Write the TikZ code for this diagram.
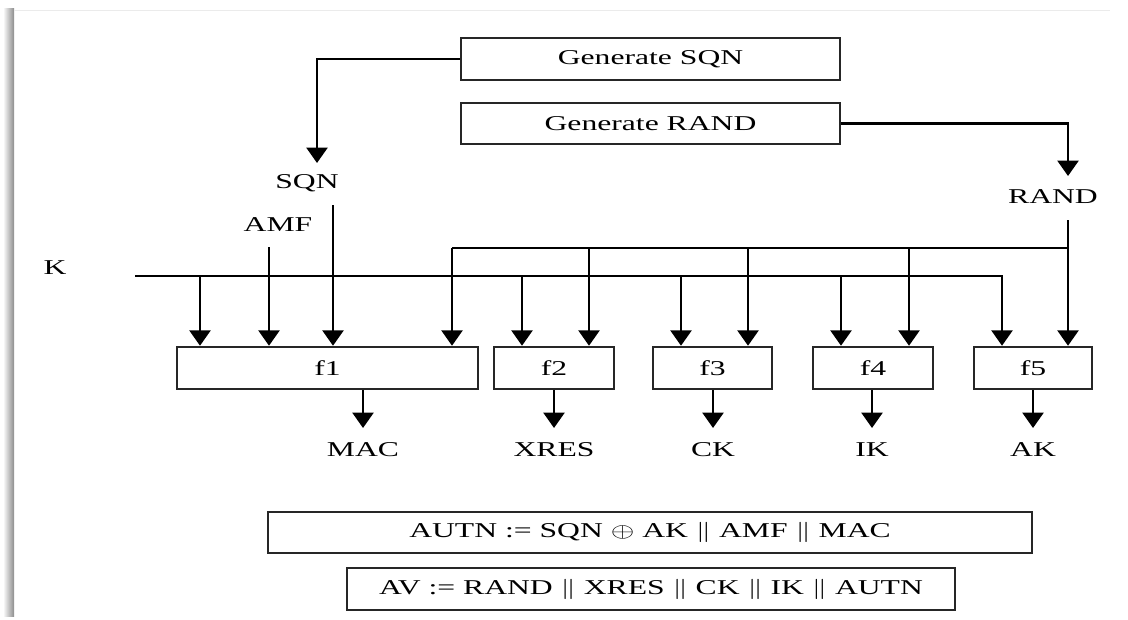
\documentclass[tikz,border=0pt]{standalone}
\usepackage{fontspec,graphicx}
\setmainfont{Liberation Serif}
\usetikzlibrary{arrows.meta}
\newcommand{\wtxt}[1]{\scalebox{1.5}[1]{#1}}
\tikzset{box/.style={draw=black!85,line width=1.8pt,inner sep=0pt,font=\fontsize{15}{18}\selectfont},lbl/.style={inner sep=0pt,font=\fontsize{15}{18}\selectfont},arr/.style={-{Triangle[width=15pt,length=11pt]},line width=1.8pt},wire/.style={line width=1.8pt}}

\begin{document}
\begin{tikzpicture}[x=0.025cm,y=-0.025cm]
\useasboundingbox(0,0)rectangle(1128,619);
% frame shadow
\shade[left color=white,right color=black!45](3,8)rectangle(14,616);
\draw[black!8](14,10)--(1110,10);
% generators
\node[box,minimum width=9.475cm,minimum height=1.05cm](gsqn)at(650.5,59){\wtxt{Generate SQN}};
\node[box,minimum width=9.475cm,minimum height=1.025cm](grand)at(650.5,123.5){\wtxt{Generate RAND}};
% inputs
\node[lbl](sqn)at(307,183){\wtxt{SQN}};
\node[lbl](amf)at(278,225){\wtxt{AMF}};
\node[lbl](k)at(55,268){\wtxt{K}};
\node[lbl](rand)at(1053,197){\wtxt{RAND}};
% functions
\node[box,minimum width=7.525cm,minimum height=1.05cm](f1)at(327.5,368){\wtxt{f1}};
\node[box,minimum width=3cm,minimum height=1.05cm](f2)at(554,368){\wtxt{f2}};
\node[box,minimum width=2.975cm,minimum height=1.05cm](f3)at(712.5,368){\wtxt{f3}};
\node[box,minimum width=3cm,minimum height=1.05cm](f4)at(873,368){\wtxt{f4}};
\node[box,minimum width=2.95cm,minimum height=1.05cm](f5)at(1033,368){\wtxt{f5}};
% results
\node[box,minimum width=19.1cm,minimum height=1.025cm](autn)at(650,532.5){\wtxt{AUTN := SQN $\oplus$ AK $\|$ AMF $\|$ MAC}};
\node[box,minimum width=15.2cm,minimum height=1.05cm](av)at(651,589){\wtxt{AV := RAND $\|$ XRES $\|$ CK $\|$ IK $\|$ AUTN}};
% SQN and RAND
\coordinate(sqnin)at(317,163);\coordinate(randin)at(1068,176);
\draw[arr](gsqn.west)-|(sqnin);
\draw[arr](grand.east)-|(randin);
\coordinate(sqnout)at(333,205);\draw[arr](sqnout)--(sqnout|-f1.north);
\coordinate(amfout)at(269,247);\draw[arr](amfout)--(amfout|-f1.north);
% K bus
\coordinate(kin)at(135,276);\coordinate(kend)at(1002,276);
\draw[arr](kin)--(kend)--(kend|-f5.north);
\foreach\n/\x in{1/200,2/522,3/681,4/841}{\coordinate(k\n)at(\x,276);\draw[arr](k\n)--(k\n|-f\n.north);}
% RAND bus
\coordinate(randout)at(1068,220);\coordinate(rj)at(1068,248);\coordinate(r1)at(452,248);
\draw[arr](randout)--(randout|-f5.north);
\draw[wire](rj)--(r1);\draw[arr](r1)--(r1|-f1.north);
\foreach\n/\x in{2/589,3/748,4/909}{\coordinate(r\n)at(\x,248);\draw[arr](r\n)--(r\n|-f\n.north);}
% outputs
\foreach\n/\x/\t in{1/363/MAC,2/554/XRES,3/713/CK,4/872/IK,5/1033/AK}{\coordinate(o\n)at(\x,428);\draw[arr](o\n|-f\n.south)--(o\n);\node[lbl](out\n)at(\x,450){\wtxt{\t}};}
\end{tikzpicture}
\end{document}
